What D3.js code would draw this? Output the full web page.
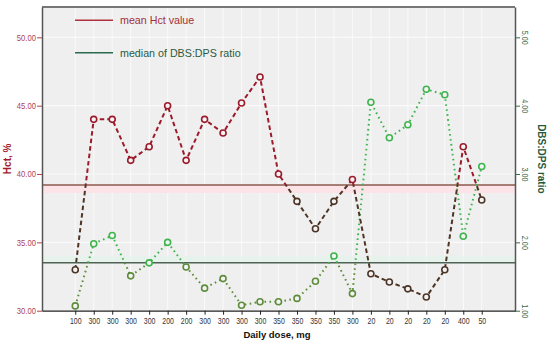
<!DOCTYPE html>
<html>
<head>
<meta charset="utf-8">
<script src="https://cdn.jsdelivr.net/npm/d3@7"></script>
<style>
  body { margin: 0; background: #fff; }
  svg { display: block; font-family: "Liberation Sans", Arial, sans-serif; }
</style>
</head>
<body>
<svg id="chart" width="550" height="344"></svg>
<script>
// daily dose per patient (x categories)
const doses = ['100','300','300','300','300','200','200','300','300','300','300',
  '350','350','350','350','300','20','20','20','20','20','400','50']
// haematocrit, % (left axis)
const hct = [33.0, 44.0, 44.0, 41.0, 42.0, 45.0, 41.0, 44.0, 43.0, 45.2, 47.1,
  40.0, 38.0, 36.0, 38.0, 39.6, 32.7, 32.1, 31.6, 31.0, 33.0, 42.0, 38.1]
// DBS:DPS ratio (right axis)
const ratio = [1.07, 1.98, 2.10, 1.51, 1.70, 2.00, 1.64, 1.33, 1.47, 1.08, 1.13,
  1.13, 1.18, 1.43, 1.80, 1.25, 4.05, 3.53, 3.72, 4.24, 4.16, 2.09, 3.11]
const meanHct = 39.2
const medianRatio = 1.70
const hctTicks = [30, 35, 40, 45, 50]
const ratioTicks = [1, 2, 3, 4, 5]

const svg = d3.select('#chart')
const plotL = 42, plotR = 515, plotT = 7, plotB = 310.7

const idx = doses.map((d, i) => i)
const x = d3.scalePoint().domain(idx).range([plotL, plotR]).padding(1.8)
const yL = d3.scaleLinear().domain([30, 52.22]).range([plotB, plotT])
const yR = d3.scaleLinear().domain([1, 5.444]).range([plotB, plotT])

const red = '#9c1b2b', darkRed = '#4d3526'
const green = '#3db54c', olive = '#5d8c3a'

// plot background + grid
svg.append('rect').attr('x', plotL).attr('y', plotT)
  .attr('width', plotR - plotL).attr('height', plotB - plotT).attr('fill', '#efefef')
svg.append('g').selectAll('line').data(idx).join('line')
  .attr('x1', d => x(d)).attr('x2', d => x(d)).attr('y1', plotT).attr('y2', plotB)
  .attr('stroke', '#fafafa').attr('stroke-width', 1)
svg.append('g').selectAll('line').data(hctTicks.slice(1)).join('line')
  .attr('x1', plotL).attr('x2', plotR).attr('y1', d => yL(d)).attr('y2', d => yL(d))
  .attr('stroke', '#fafafa').attr('stroke-width', 1.2)

// faint shading next to reference lines
svg.append('rect').attr('x', plotL).attr('width', plotR - plotL)
  .attr('y', yL(meanHct)).attr('height', 8).attr('fill', '#fbe3e8')
svg.append('rect').attr('x', plotL).attr('width', plotR - plotL)
  .attr('y', yR(medianRatio) - 7).attr('height', 7).attr('fill', '#e3f3ea').attr('opacity', 0.7)

// reference lines
svg.append('line').attr('x1', plotL).attr('x2', plotR)
  .attr('y1', yL(meanHct)).attr('y2', yL(meanHct))
  .attr('stroke', '#8a5a4c').attr('stroke-width', 1.5)
svg.append('line').attr('x1', plotL).attr('x2', plotR)
  .attr('y1', yR(medianRatio)).attr('y2', yR(medianRatio))
  .attr('stroke', '#4f6355').attr('stroke-width', 1.5)

// gradients: colour switches at the reference line
const defs = svg.append('defs')
function splitGrad(id, yCut, above, below) {
  const g = defs.append('linearGradient').attr('id', id)
    .attr('gradientUnits', 'userSpaceOnUse')
    .attr('x1', 0).attr('x2', 0).attr('y1', plotT).attr('y2', plotB)
  const f = (yCut - plotT) / (plotB - plotT)
  g.append('stop').attr('offset', f).attr('stop-color', above)
  g.append('stop').attr('offset', f).attr('stop-color', below)
}
splitGrad('gHct', yL(meanHct), red, darkRed)
splitGrad('gRatio', yR(medianRatio), green, olive)

// series lines
svg.append('path').datum(ratio)
  .attr('d', d3.line().x((d, i) => x(i)).y(d => yR(d)))
  .attr('fill', 'none').attr('stroke', 'url(#gRatio)').attr('stroke-width', 2)
  .attr('stroke-dasharray', '1.6,3.4')
svg.append('path').datum(hct)
  .attr('d', d3.line().x((d, i) => x(i)).y(d => yL(d)))
  .attr('fill', 'none').attr('stroke', 'url(#gHct)').attr('stroke-width', 2)
  .attr('stroke-dasharray', '4.5,3')

// markers
svg.append('g').selectAll('circle').data(ratio).join('circle')
  .attr('cx', (d, i) => x(i)).attr('cy', d => yR(d)).attr('r', 3)
  .attr('fill', '#f4f4f4').attr('stroke', d => d >= medianRatio ? green : olive)
  .attr('stroke-width', 1.6)
svg.append('g').selectAll('circle').data(hct).join('circle')
  .attr('cx', (d, i) => x(i)).attr('cy', d => yL(d)).attr('r', 3)
  .attr('fill', '#f4f4f4').attr('stroke', d => d >= meanHct ? red : darkRed)
  .attr('stroke-width', 1.6)

// frame
svg.append('line').attr('x1', plotL).attr('x2', plotR).attr('y1', plotT).attr('y2', plotT)
  .attr('stroke', '#777').attr('stroke-width', 2)

// axes
const axL = svg.append('g').attr('transform', `translate(${plotL},0)`)
  .call(d3.axisLeft(yL).tickValues(hctTicks).tickFormat(d3.format('.2f'))
    .tickSize(5).tickSizeOuter(0))
axL.select('.domain').attr('stroke', '#555').attr('stroke-width', 1.5)
axL.selectAll('.tick line').attr('stroke', '#b04456')
axL.selectAll('text').attr('fill', '#b04456').attr('font-size', 9)
  .attr('font-family', '"Liberation Sans", Arial, sans-serif')
  .attr('x', 0).attr('transform', 'translate(-6,0) scale(0.85,1)')

const axR = svg.append('g').attr('transform', `translate(${plotR},0)`)
  .call(d3.axisRight(yR).tickValues(ratioTicks).tickFormat(d3.format('.2f'))
    .tickSize(5).tickSizeOuter(0))
axR.select('.domain').attr('stroke', '#555').attr('stroke-width', 1.5)
axR.selectAll('.tick line').attr('stroke', '#3d6b4c')
axR.selectAll('text').attr('fill', '#3d6b4c').attr('font-size', 8.5)
  .attr('font-family', '"Liberation Sans", Arial, sans-serif')
  .attr('x', 0).attr('dy', 0).attr('text-anchor', 'middle')
  .attr('transform', 'translate(6.5,0) rotate(90) scale(0.85,1)')

const axB = svg.append('g').attr('transform', `translate(0,${plotB})`)
  .call(d3.axisBottom(x).tickFormat(i => doses[i]).tickSize(4).tickSizeOuter(0).tickPadding(3))
axB.select('.domain').attr('stroke', '#222').attr('stroke-width', 1.3)
axB.selectAll('.tick line').attr('stroke', '#222')
axB.selectAll('text').attr('fill', '#333').attr('font-size', 8.5)
  .attr('font-family', '"Liberation Sans", Arial, sans-serif')
  .attr('transform', 'scale(0.82,1)')

// axis titles
svg.append('text').attr('transform', `translate(11,${(plotT + plotB) / 2}) rotate(-90)`)
  .attr('text-anchor', 'middle').attr('font-weight', 'bold').attr('font-size', 10)
  .attr('fill', '#a01c2c').text('Hct, %')
svg.append('text').attr('transform', `translate(538,${(plotT + plotB) / 2}) rotate(90)`)
  .attr('text-anchor', 'middle').attr('font-weight', 'bold').attr('font-size', 10)
  .attr('fill', '#1f5a3c').text('DBS:DPS ratio')
svg.append('text').attr('x', 277).attr('y', 338)
  .attr('text-anchor', 'middle').attr('font-weight', 'bold').attr('font-size', 9.5)
  .attr('fill', '#111').text('Daily dose, mg')

// legend
const legend = [
  { label: 'mean Hct value', line: '#b0303e', text: '#a3303c', y: 20.3 },
  { label: 'median of DBS:DPS ratio', line: '#2a6a4e', text: '#2d5a3c', y: 52.7 }
]
const lg = svg.append('g').selectAll('g').data(legend).join('g')
lg.append('line').attr('x1', 75).attr('x2', 113).attr('y1', d => d.y).attr('y2', d => d.y)
  .attr('stroke', d => d.line).attr('stroke-width', 1.5)
lg.append('text').attr('x', 120).attr('y', d => d.y + 4).attr('font-size', 10.7)
  .attr('fill', d => d.text).text(d => d.label)
</script>
</body>
</html>
